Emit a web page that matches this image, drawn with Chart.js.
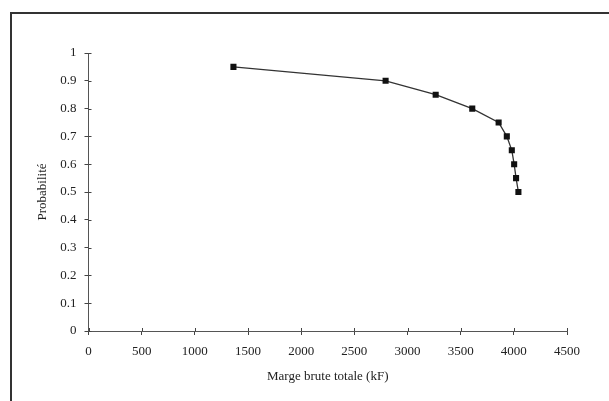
<!DOCTYPE html>
<html>
<head>
<meta charset="utf-8">
<script src="https://cdn.jsdelivr.net/npm/chart.js@4"></script>
<style>
  body { margin: 0; background: #fff; }
  #wrap { width: 609px; height: 401px; }
</style>
</head>
<body>
<div id="wrap"><canvas id="myChart" width="609" height="401"></canvas></div>
<script>
// marge brute totale (kF) vs probabilite
const marge = [1363, 2794, 3265, 3609, 3857, 3934, 3981, 4003, 4021, 4043];
const proba = [0.95, 0.90, 0.85, 0.80, 0.75, 0.70, 0.65, 0.60, 0.55, 0.50];

const xTicks = [0, 500, 1000, 1500, 2000, 2500, 3000, 3500, 4000, 4500];
const yTicks = [0, 0.1, 0.2, 0.3, 0.4, 0.5, 0.6, 0.7, 0.8, 0.9, 1];

const points = marge.map((m, i) => ({ x: m, y: proba[i] }));

const serif = 'Liberation Serif';
const ink = '#222';

// cadre autour du graphique + petites graduations cote interieur
const frame = {
  id: 'frame',
  beforeDraw(chart) {
    const c = chart.ctx;
    c.save();
    c.strokeStyle = '#333';
    c.lineWidth = 2;
    c.beginPath();
    c.moveTo(11, 401);
    c.lineTo(11, 13);
    c.lineTo(609, 13);
    c.stroke();
    c.restore();
  },
  afterDraw(chart) {
    const c = chart.ctx;
    const xs = chart.scales.x, ys = chart.scales.y;
    const a = chart.chartArea;
    c.save();
    c.strokeStyle = '#444';
    c.lineWidth = 1;
    c.beginPath();
    xTicks.forEach(v => {
      const px = Math.round(xs.getPixelForValue(v)) + 0.5;
      c.moveTo(px, a.bottom);
      c.lineTo(px, a.bottom - 3);
    });
    yTicks.forEach(v => {
      const py = Math.round(ys.getPixelForValue(v)) + 0.5;
      c.moveTo(a.left, py);
      c.lineTo(a.left + 3, py);
    });
    c.stroke();
    c.restore();
  }
};

new Chart(document.getElementById('myChart'), {
  type: 'scatter',
  data: {
    datasets: [{
      data: points,
      showLine: true,
      borderColor: '#333',
      borderWidth: 1.3,
      backgroundColor: '#111',
      pointStyle: 'rect',
      pointRadius: 4.3,
      pointBorderWidth: 0,
      pointHoverRadius: 4.3
    }]
  },
  options: {
    responsive: false,
    animation: false,
    layout: { padding: { top: 53, right: 42, left: 0, bottom: 0 } },
    plugins: {
      legend: { display: false },
      tooltip: { enabled: false }
    },
    scales: {
      x: {
        type: 'linear',
        min: 0,
        max: 4500,
        afterBuildTicks: s => { s.ticks = xTicks.map(v => ({ value: v })); },
        afterFit: s => { s.height = 70; },
        border: { display: true, color: '#555', width: 1 },
        grid: { drawOnChartArea: false, tickLength: 4, color: '#444' },
        ticks: {
          color: ink,
          padding: 9,
          maxRotation: 0,
          font: { family: serif, size: 13 },
          callback: v => String(v)
        },
        title: {
          display: true,
          text: 'Marge brute totale (kF)',
          color: ink,
          font: { family: serif, size: 13 },
          padding: { top: 0, bottom: 17 }
        }
      },
      y: {
        type: 'linear',
        min: 0,
        max: 1,
        afterBuildTicks: s => { s.ticks = yTicks.map(v => ({ value: v })); },
        afterFit: s => { s.width = 88.5; },
        border: { display: true, color: '#555', width: 1 },
        grid: { drawOnChartArea: false, tickLength: 4, color: '#444' },
        ticks: {
          color: ink,
          padding: 8,
          font: { family: serif, size: 13 },
          callback: v => String(Math.round(v * 10) / 10)
        },
        title: {
          display: true,
          text: 'Probabilité',
          color: ink,
          font: { family: serif, size: 13 },
          padding: { top: 35, bottom: 0 }
        }
      }
    }
  },
  plugins: [frame]
});
</script>
</body>
</html>
